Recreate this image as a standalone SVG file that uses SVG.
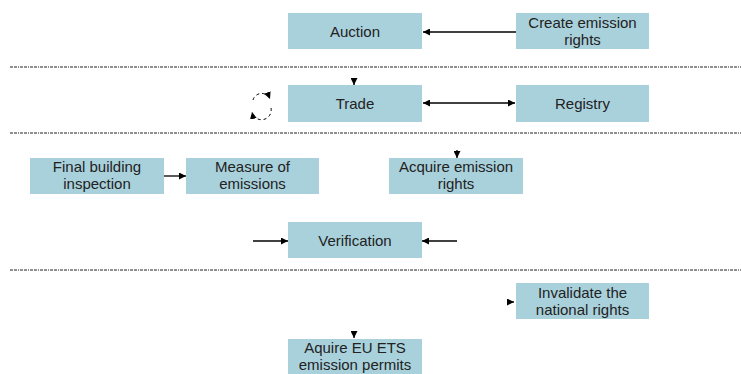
<svg xmlns="http://www.w3.org/2000/svg" width="741" height="374" viewBox="0 0 741 374">
<style>
.box{fill:#A9D1DC;}
.t{font-family:"Liberation Sans",Arial,sans-serif;font-size:15px;fill:#222;text-anchor:middle;}
.sep{stroke:#222;stroke-width:1.2;stroke-dasharray:3 1 3 1 1 1;fill:none;}
.c{stroke:#000;stroke-width:1.3;fill:none;}
.d{stroke:#000;stroke-width:1;fill:none;stroke-dasharray:3 3;}
</style>
<defs>
<marker id="ah" viewBox="0 0 10 10" refX="10" refY="5" markerWidth="7" markerHeight="7" markerUnits="userSpaceOnUse" orient="auto-start-reverse">
<path d="M0,0 L10,5 L0,10 z" fill="#000"/>
</marker>
</defs>
<rect width="741" height="374" fill="#fff"/>
<g id="separators">
<line class="sep" x1="10" y1="67" x2="741" y2="67"/>
<line class="sep" x1="10" y1="133" x2="741" y2="133"/>
<line class="sep" x1="10" y1="270" x2="741" y2="270"/>
</g>
<g id="auction"><rect class="box" x="288" y="13" width="134" height="36"/><text class="t" x="355" y="37">Auction</text></g>
<g id="create"><rect class="box" x="516" y="13" width="133" height="36"/><text class="t" x="582.5" y="28">Create emission</text><text class="t" x="582.5" y="45">rights</text></g>
<g id="trade"><rect class="box" x="288" y="85" width="134" height="37"/><text class="t" x="355" y="109">Trade</text></g>
<g id="registry"><rect class="box" x="516" y="85" width="133" height="37"/><text class="t" x="582.5" y="109">Registry</text></g>
<g id="final"><rect class="box" x="30" y="158" width="134" height="36"/><text class="t" x="97" y="172">Final building</text><text class="t" x="97" y="189">inspection</text></g>
<g id="measure"><rect class="box" x="186" y="158" width="133" height="36"/><text class="t" x="252.5" y="172">Measure of</text><text class="t" x="252.5" y="189">emissions</text></g>
<g id="acquire"><rect class="box" x="389" y="158" width="134" height="36"/><text class="t" x="456" y="172">Acquire emission</text><text class="t" x="456" y="189">rights</text></g>
<g id="verification"><rect class="box" x="288" y="222" width="134" height="36"/><text class="t" x="355" y="246">Verification</text></g>
<g id="invalidate"><rect class="box" x="516" y="283" width="133" height="36"/><text class="t" x="582.5" y="298">Invalidate the</text><text class="t" x="582.5" y="315">national rights</text></g>
<g id="aquire-eu"><rect class="box" x="288" y="339" width="134" height="40"/><text class="t" x="355" y="353">Aquire EU ETS</text><text class="t" x="355" y="370">emission permits</text></g>
<g id="connectors">
<line class="c" x1="516" y1="32" x2="423" y2="32" marker-end="url(#ah)"/>
<line class="c" x1="423" y1="103" x2="515" y2="103" marker-start="url(#ah)" marker-end="url(#ah)"/>
<line class="c" x1="354" y1="78" x2="354" y2="85" marker-end="url(#ah)"/>
<line class="c" x1="164" y1="176" x2="186" y2="176" marker-end="url(#ah)"/>
<line class="c" x1="457" y1="150" x2="457" y2="158" marker-end="url(#ah)"/>
<line class="c" x1="253" y1="241" x2="288" y2="241" marker-end="url(#ah)"/>
<line class="c" x1="457" y1="241" x2="422" y2="241" marker-end="url(#ah)"/>
<line class="c" x1="508" y1="302" x2="514" y2="302" marker-end="url(#ah)"/>
<line class="c" x1="354" y1="331" x2="354" y2="338" marker-end="url(#ah)"/>
<path class="d" d="M253,100 A9,9 0 0 1 270,99" marker-end="url(#ah)"/>
<path class="d" d="M271,108 A9,9 0 0 1 252,112" marker-end="url(#ah)"/>
</g>
</svg>
